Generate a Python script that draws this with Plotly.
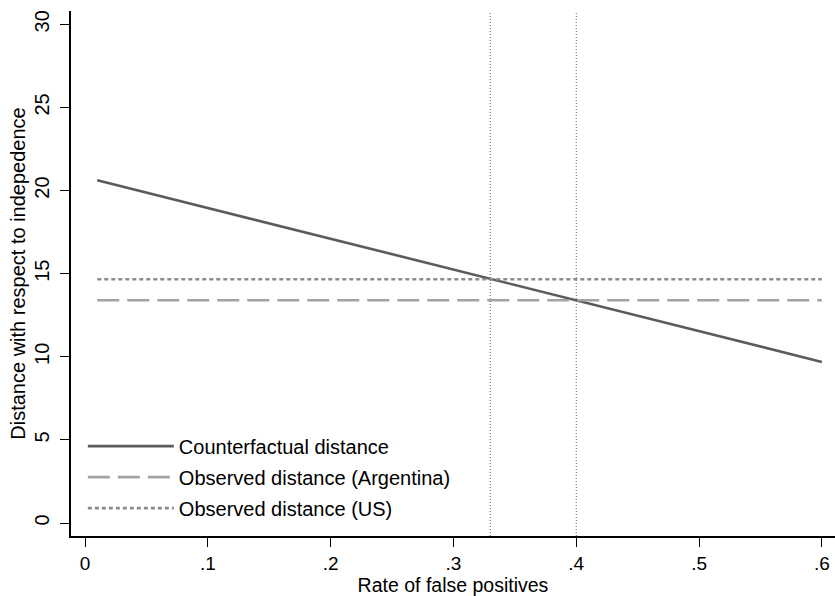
import plotly.graph_objects as go

# data
cf_x = [0.01, 0.6]
cf_y = [20.62, 9.69]
arg_x = [0.01, 0.6]
arg_y = [13.40, 13.40]
us_x = [0.01, 0.6]
us_y = [14.66, 14.66]
vlines_x = [0.33, 0.40]
xticks = [0, 0.1, 0.2, 0.3, 0.4, 0.5, 0.6]
xticklabels = ["0", ".1", ".2", ".3", ".4", ".5", ".6"]
yticks = [0, 5, 10, 15, 20, 25, 30]

FONT = "Liberation Sans, Arial, Helvetica, sans-serif"
FS = 20

fig = go.Figure()
fig.add_trace(go.Scatter(x=cf_x, y=cf_y, mode="lines", name="Counterfactual distance",
                         legendgroup="a",
                         line=dict(color="#5b5b5b", width=2.6)))
fig.add_trace(go.Scatter(x=arg_x, y=arg_y, mode="lines", name="Observed distance (Argentina)",
                         legendgroup="b",
                         line=dict(color="#a3a3a3", width=2.6, dash="22px,8px")))
fig.add_trace(go.Scatter(x=us_x, y=us_y, mode="lines", name="Observed distance (US)",
                         legendgroup="c",
                         line=dict(color="#8c8c8c", width=2.6, dash="4px,3px")))

for v in vlines_x:
    fig.add_vline(x=v, line=dict(color="#666666", width=1, dash="1px,2px"))

fig.update_layout(
    width=835, height=596,
    margin=dict(l=71, r=0, t=11, b=60),
    paper_bgcolor="white", plot_bgcolor="white",
    font=dict(family=FONT, size=FS, color="black"),
    showlegend=True,
    legend=dict(x=0.0155, y=0.016, xanchor="left", yanchor="bottom",
                bgcolor="rgba(0,0,0,0)", borderwidth=0,
                tracegroupgap=2, itemwidth=86,
                font=dict(family=FONT, size=FS)),
    xaxis=dict(range=[-0.0114, 0.6107], tickvals=xticks, ticktext=xticklabels,
               showgrid=False, zeroline=False, showline=True, linecolor="black",
               linewidth=1.5, ticks="outside", ticklen=9, tickcolor="black", tickwidth=1.3,
               tickfont=dict(size=19), ticklabelstandoff=0,
               title=dict(text="Rate of false positives", font=dict(size=19.5), standoff=5)),
    yaxis=dict(range=[-0.78, 30.8], tickvals=yticks,
               showgrid=False, zeroline=False, showline=True, linecolor="black",
               linewidth=1.5, ticks="outside", ticklen=9, tickcolor="black", tickwidth=1.3,
               tickangle=-90, tickfont=dict(size=FS), ticklabelstandoff=3,
               title=dict(text="Distance with respect to indepedence", font=dict(size=FS), standoff=0)),
)

fig.write_html("out.html", config={"displayModeBar": False},
               post_script="document.body.style.margin='0';")
